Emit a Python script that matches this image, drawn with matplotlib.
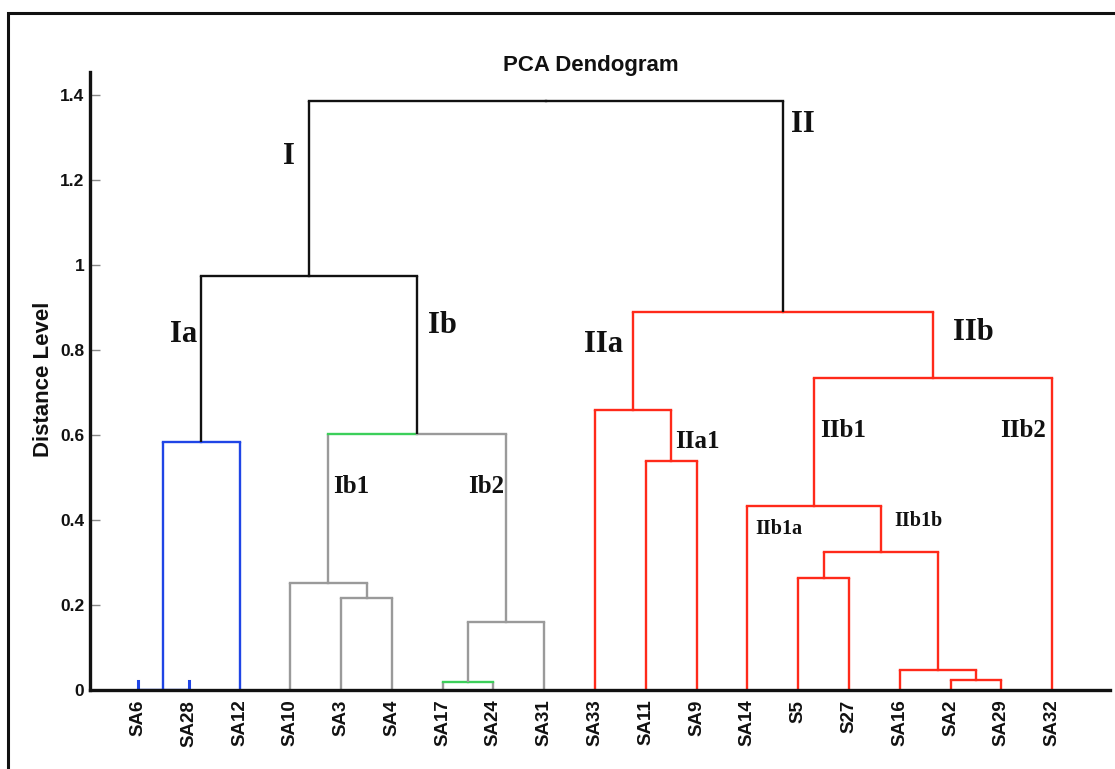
import matplotlib
matplotlib.use("Agg")
import matplotlib.pyplot as plt
from matplotlib.patches import Rectangle

# Sample order along the x axis
leaves = ["SA6", "SA28", "SA12", "SA10", "SA3", "SA4", "SA17", "SA24", "SA31",
          "SA33", "SA11", "SA9", "SA14", "S5", "S27", "SA16", "SA2", "SA29", "SA32"]

# Agglomeration steps: children are sample names or indices of earlier steps
merge_left = ["SA6", 0, "SA3", "SA10", "SA17", 4, 3, 1,
              "SA11", "SA33", "S5", "SA2", "SA16", 10, "SA14", 14, 9, 7]
merge_right = ["SA28", "SA12", "SA4", 2, "SA24", "SA31", 5, 6,
               "SA9", 8, "S27", "SA29", 11, 12, 13, "SA32", 15, 16]
merge_height = [0.0, 0.584, 0.216, 0.253, 0.020, 0.160, 0.603, 0.974,
                0.539, 0.659, 0.264, 0.023, 0.047, 0.326, 0.434, 0.734, 0.889, 1.387]

BLUE, GRAY, GREEN, RED, BLACK = "#1f45e6", "#9a9a9a", "#3ccf5a", "#ff2a1a", "#111111"
merge_color = [BLUE, BLUE, GRAY, GRAY, GRAY, GRAY, GRAY, BLACK,
               RED, RED, RED, RED, RED, RED, RED, RED, RED, BLACK]
# colour of the left / right half of each horizontal bar
merge_bar_color = [(c, c) for c in merge_color]
merge_bar_color[4] = (GREEN, GREEN)
merge_bar_color[6] = (GREEN, GRAY)

# short stubs standing on the baseline for the first pair
stub_leaves = ["SA6", "SA28"]
stub_height = [0.022, 0.022]

# Cluster names
cluster_labels = ["I", "II", "Ia", "Ib", "IIa", "IIb",
                  "Ib1", "Ib2", "IIa1", "IIb1", "IIb2", "IIb1a", "IIb1b"]
label_x = [2.97, 13.10, 0.90, 6.00, 9.16, 16.44,
           4.19, 6.85, 11.01, 13.88, 17.43, 12.62, 15.36]
label_y = [1.255, 1.332, 0.838, 0.859, 0.814, 0.842,
           0.478, 0.478, 0.585, 0.611, 0.611, 0.379, 0.397]
label_size = [22, 22, 22, 22, 22, 22, 18, 18, 18, 18, 18, 14.5, 14.5]

yticks = [0, 0.2, 0.4, 0.6, 0.8, 1.0, 1.2, 1.4]
ytick_labels = ["0", "0.2", "0.4", "0.6", "0.8", "1", "1.2", "1.4"]

W, H = 1115, 769
fig = plt.figure(figsize=(W / 100, H / 100), dpi=100)
ax = fig.add_axes([90 / W, 79 / H, 1020 / W, 618 / H])

pos = {name: float(i) for i, name in enumerate(leaves)}
node_x, node_h = {}, {}


def child(c):
    if isinstance(c, str):
        return pos[c], 0.0
    return node_x[c], node_h[c]


for k, (l, r, h) in enumerate(zip(merge_left, merge_right, merge_height)):
    xl, hl = child(l)
    xr, hr = child(r)
    xm = (xl + xr) / 2
    col = merge_color[k]
    cl, cr = merge_bar_color[k]
    lw = 1.7
    ax.plot([xl, xl], [hl, h], color=col, lw=lw, solid_capstyle="butt", zorder=2)
    ax.plot([xr, xr], [hr, h], color=col, lw=lw, solid_capstyle="butt", zorder=2)
    ax.plot([xl, xm], [h, h], color=cl, lw=lw, solid_capstyle="projecting", zorder=2)
    ax.plot([xm, xr], [h, h], color=cr, lw=lw, solid_capstyle="projecting", zorder=2)
    node_x[k], node_h[k] = xm, h

for name, sh in zip(stub_leaves, stub_height):
    ax.plot([pos[name], pos[name]], [0, sh], color=BLUE, lw=2.2, zorder=2)

for txt, x, y, s in zip(cluster_labels, label_x, label_y, label_size):
    ax.text(x, y, txt, fontsize=s, fontweight="bold", family="Liberation Serif",
            ha="center", va="center", color="#111111", zorder=4)

ax.set_xlim(-0.945, 19.14)
ax.set_ylim(0, 1.455)

for side in ("top", "right"):
    ax.spines[side].set_visible(False)
for side in ("left", "bottom"):
    ax.spines[side].set_linewidth(2.4)
    ax.spines[side].set_color("#111111")

ax.set_xticks(range(len(leaves)))
ax.set_xticklabels(leaves, rotation=90, fontsize=13.5, fontweight="bold",
                   family="Liberation Sans", color="#111111")
ax.tick_params(axis="x", length=0, pad=7)
ax.set_yticks(yticks)
ax.set_yticklabels(ytick_labels, fontsize=12.5, fontweight="bold",
                   family="Liberation Sans", color="#111111")
ax.tick_params(axis="y", direction="in", length=7, width=1, color="#888888", pad=4)

fig.text(44 / W, 1 - 379 / H, "Distance Level", rotation=90, fontsize=16,
         fontweight="bold", family="Liberation Sans", ha="center", va="center",
         color="#111111")
fig.text(591 / W, 1 - 65 / H, "PCA Dendogram", fontsize=16, fontweight="bold",
         family="Liberation Sans", ha="center", va="center", color="#111111")

fig.patches.append(Rectangle((8 / W, -0.05), 1.2, 1.05 - 13 / H,
                             transform=fig.transFigure, fill=False,
                             edgecolor="#111111", lw=2.2))

fig.savefig("out.png", dpi=100)
